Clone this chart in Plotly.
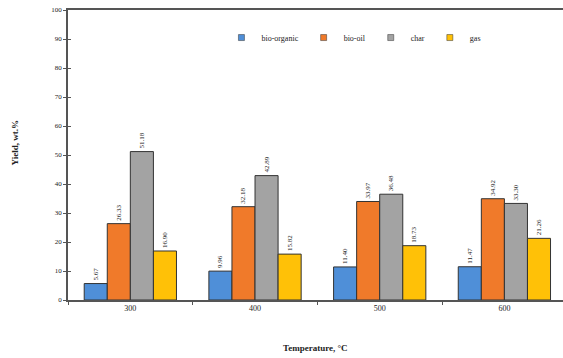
import plotly.graph_objects as go

temperatures = ["300", "400", "500", "600"]
bio_organic = [5.67, 9.96, 11.40, 11.47]
bio_oil = [26.33, 32.18, 33.97, 34.92]
char = [51.18, 42.89, 36.48, 33.30]
gas = [16.90, 15.82, 18.73, 21.26]

series = [
    ("bio-organic", bio_organic, "#4F8FD8"),
    ("bio-oil", bio_oil, "#F07A2A"),
    ("char", char, "#A3A3A3"),
    ("gas", gas, "#FFC107"),
]

serif = "Liberation Serif"
ink = "#222222"

fig = go.Figure()
for name, vals, color in series:
    fig.add_trace(go.Bar(
        x=temperatures, y=vals, name=name, legendgroup=name, showlegend=False,
        marker=dict(color=color, line=dict(color="#333333", width=1)),
        text=[f"{v:.2f}" for v in vals],
        textposition="outside", textangle=-90,
        textfont=dict(family=serif, size=7, color=ink),
        cliponaxis=False,
    ))

# small square swatches for the legend
for name, vals, color in series:
    fig.add_trace(go.Scatter(
        x=[None], y=[None], name=name, legendgroup=name, mode="markers",
        marker=dict(symbol="square", size=6, color=color,
                    line=dict(color="#333333", width=0.5)),
    ))

# invisible trace so the inner tick marks on the second y axis are drawn
fig.add_trace(go.Scatter(x=[temperatures[0]], y=[0], yaxis="y2", mode="markers",
                         marker=dict(opacity=0), showlegend=False, hoverinfo="skip"))

fig.update_layout(
    width=563, height=358,
    margin=dict(l=68, r=0, t=10, b=58),
    paper_bgcolor="white", plot_bgcolor="white",
    barmode="group", bargap=0.26, bargroupgap=0,
    font=dict(family=serif, size=8, color=ink),
    showlegend=True,
    legend=dict(
        orientation="h", x=0.31, y=0.905, xanchor="left", yanchor="middle",
        font=dict(family=serif, size=8, color=ink),
        itemwidth=30, bgcolor="rgba(0,0,0,0)",
        tracegroupgap=0,
    ),
    xaxis=dict(
        type="category", range=[-0.5, 3.47],
        showline=True, linecolor="#555555", linewidth=1.5, mirror=True,
        ticks="outside", tickson="boundaries", ticklen=3, tickcolor="#555555",
        tickfont=dict(family=serif, size=8, color=ink),
        showgrid=False,
    ),
    yaxis=dict(
        range=[0, 100], dtick=10,
        showline=True, linecolor="#555555", linewidth=1.5,
        ticks="outside", ticklen=3, tickcolor="#555555",
        tickfont=dict(family=serif, size=7, color=ink),
        showgrid=False, zeroline=False,
    ),
    yaxis2=dict(
        range=[0, 100], dtick=10, overlaying="y", side="left",
        ticks="inside", ticklen=3, tickcolor="#555555",
        showticklabels=False, showgrid=False, zeroline=False, showline=False,
    ),
    annotations=[
        dict(text="<b>Temperature, °C</b>", xref="paper", yref="paper",
             x=0.5, y=-0.165, xanchor="center", yanchor="middle", showarrow=False,
             font=dict(family=serif, size=9, color=ink)),
        dict(text="<b>Yield, wt.%</b>", xref="paper", yref="paper",
             x=-0.107, y=0.54, xanchor="center", yanchor="middle", showarrow=False,
             textangle=-90, font=dict(family=serif, size=9, color=ink)),
    ],
)

fig.write_html("out.html")
